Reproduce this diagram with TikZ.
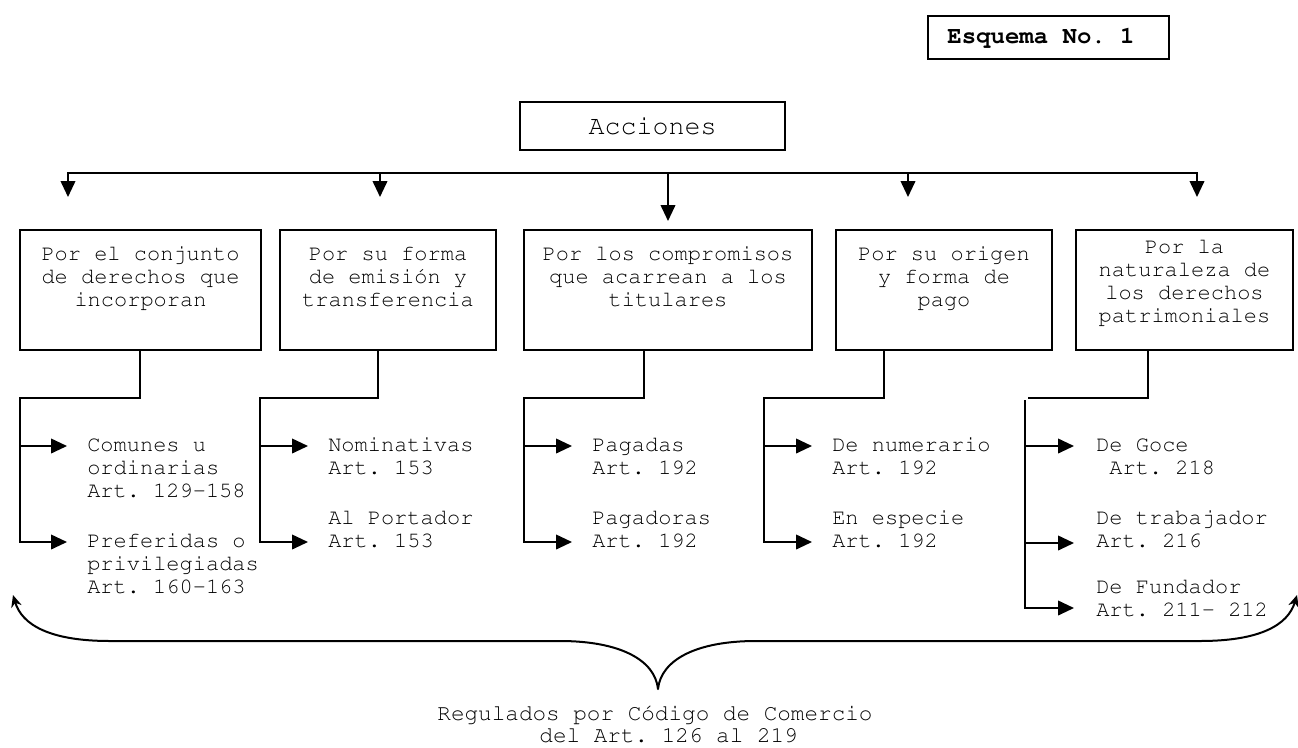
\documentclass[tikz,border=0pt]{standalone}
\usepackage[T1]{fontenc}
\usepackage{courier}
\usetikzlibrary{arrows.meta,calc}
\frenchspacing
\begin{document}
\begin{tikzpicture}[x=0.75pt,y=-0.75pt,
  ln/.style={line width=1.35pt},
  box/.style={draw, line width=1.35pt, inner sep=0pt, outer sep=0pt},
  rect/.style 2 args={minimum width=#1*0.75pt, minimum height=#2*0.75pt},
  arr/.style={ln, -{Triangle[length=12pt,width=11pt]}},
  arrb/.style={ln, {Triangle[length=12pt,width=11pt]}-{Triangle[length=12pt,width=11pt]}},
  boxtxt/.style={anchor=base, align=center, inner sep=0pt, font=\ttfamily\frenchspacing\fontsize{16.5}{17.25}\selectfont},
  leaf/.style={anchor=base west, align=left, inner sep=0pt, font=\ttfamily\frenchspacing\fontsize{16.5}{17.25}\selectfont},
  brace/.style={line width=1.5pt, line join=round, {Stealth[length=9pt,width=8pt]}-{Stealth[length=9pt,width=8pt]}}
]
\useasboundingbox (0,0) rectangle (1298,747);

% title
\node[box, rect={241}{43}] (esq) at (1048.5,37.5) {};
\node[anchor=base, inner sep=0pt, font=\ttfamily\frenchspacing\bfseries\fontsize{18}{20}\selectfont] (esqt) at (1041,43) {Esquema No. 1};

% root
\node[box, rect={265}{48}, text depth=0pt, font=\ttfamily\fontsize{20}{22}\selectfont] (acc) at (652.5,126) {Acciones};

% category boxes
\node[box, rect={241}{120}] (b1) at (140.5,290) {};
\node[box, rect={216}{120}] (b2) at (388,290) {};
\node[box, rect={288}{120}] (b3) at (668,290) {};
\node[box, rect={216}{120}] (b4) at (944,290) {};
\node[box, rect={217}{120}] (b5) at (1184.5,290) {};

% (base anchor = baseline of the last line)
\node[boxtxt] (b1t) at (140.5,306) {Por el conjunto\\de derechos que\\incorporan};
\node[boxtxt] (b2t) at (388,306) {Por su forma\\de emisi\'on y\\transferencia};
\node[boxtxt] (b3t) at (668,306) {Por los compromisos\\que acarrean a los\\titulares};
\node[boxtxt] (b4t) at (944,306) {Por su origen\\y forma de\\pago};
\node[boxtxt] (b5t) at (1184.5,322) {Por la\\naturaleza de\\los derechos\\patrimoniales};

% top distribution line
\coordinate (h1) at (68,173);
\coordinate (h2) at (380,173);
\coordinate (h3) at (668,173);
\coordinate (h4) at (908,173);
\coordinate (h5) at (1197,173);
\coordinate (k1) at (68,197);
\coordinate (k2) at (380,197);
\coordinate (k3) at (668,221);
\coordinate (k4) at (908,197);
\coordinate (k5) at (1197,197);
\draw[arrb] (k1) -- (h1) -- (h5) -- (k5);
\draw[arr] (h2) -- (k2);
\draw[arr] (h3) -- (k3);
\draw[arr] (h4) -- (k4);

% stems and branch lines
\coordinate (s1) at (140,398);  \coordinate (v1) at (20,398);  \coordinate (w1) at (20,542);
\coordinate (s2) at (378,398);  \coordinate (v2) at (260,398); \coordinate (w2) at (260,542);
\coordinate (s3) at (644,398);  \coordinate (v3) at (524,398); \coordinate (w3) at (524,542);
\coordinate (s4) at (884,398);  \coordinate (v4) at (764,398); \coordinate (w4) at (764,542);
\coordinate (s5) at (1148,398); \coordinate (v5) at (1028,398);
\coordinate (u5) at (1025,400); \coordinate (w5) at (1025,608);

\coordinate (t11) at (67,446);   \coordinate (t12) at (67,542);
\coordinate (t21) at (308,446);  \coordinate (t22) at (308,542);
\coordinate (t31) at (572,446);  \coordinate (t32) at (572,542);
\coordinate (t41) at (812,446);  \coordinate (t42) at (812,542);
\coordinate (t51) at (1074,446); \coordinate (t52) at (1074,543); \coordinate (t53) at (1074,608);

\draw[arr] (b1.south -| s1) -- (s1) -- (v1) -- (w1) -- (t12);
\draw[arr] (v1 |- t11) -- (t11);
\draw[arr] (b2.south -| s2) -- (s2) -- (v2) -- (w2) -- (t22);
\draw[arr] (v2 |- t21) -- (t21);
\draw[arr] (b3.south -| s3) -- (s3) -- (v3) -- (w3) -- (t32);
\draw[arr] (v3 |- t31) -- (t31);
\draw[arr] (b4.south -| s4) -- (s4) -- (v4) -- (w4) -- (t42);
\draw[arr] (v4 |- t41) -- (t41);
\draw[ln] (b5.south -| s5) -- (s5) -- (v5);
\draw[arr] (u5) -- (w5) -- (t53);
\draw[arr] (u5 |- t51) -- (t51);
\draw[arr] (u5 |- t52) -- (t52);

% leaves (base = last line)
\node[leaf] (l11) at (87,497) {Comunes u\\ordinarias\\Art. 129-158};
\node[leaf] (l12) at (87,593) {Preferidas o\\privilegiadas\\Art. 160-163};
\node[leaf] (l21) at (328,474) {Nominativas\\Art. 153};
\node[leaf] (l22) at (328,547) {Al Portador\\Art. 153};
\node[leaf] (l31) at (592,474) {Pagadas\\Art. 192};
\node[leaf] (l32) at (592,547) {Pagadoras\\Art. 192};
\node[leaf] (l41) at (832,474) {De numerario\\Art. 192};
\node[leaf] (l42) at (832,547) {En especie\\Art. 192};
\node[leaf] (l51) at (1096,474) {De Goce\\\hspace*{0.6em}Art. 218};
\node[leaf] (l52) at (1096,547) {De trabajador\\Art. 216};
\node[leaf] (l53) at (1096,616) {De Fundador\\Art. 211- 212};

% brace
\coordinate (bl) at (13,595);
\coordinate (tip) at (658,689);
\coordinate (br) at (1297,595);
\draw[brace] (bl) .. controls (22,625) and (50,641) .. (110,641) -- (560,641)
  .. controls (620,641) and (655,660) .. (tip)
  .. controls (661,660) and (696,641) .. (756,641) -- (1200,641)
  .. controls (1260,641) and (1288,625) .. (br);

\node[anchor=base, align=center, inner sep=0pt, font=\ttfamily\frenchspacing\fontsize{17}{16.5}\selectfont] (reg) at (655,742)
  {Regulados por C\'odigo de Comercio\\\hspace*{1.2em}del Art. 126 al 219};
\end{tikzpicture}
\end{document}
